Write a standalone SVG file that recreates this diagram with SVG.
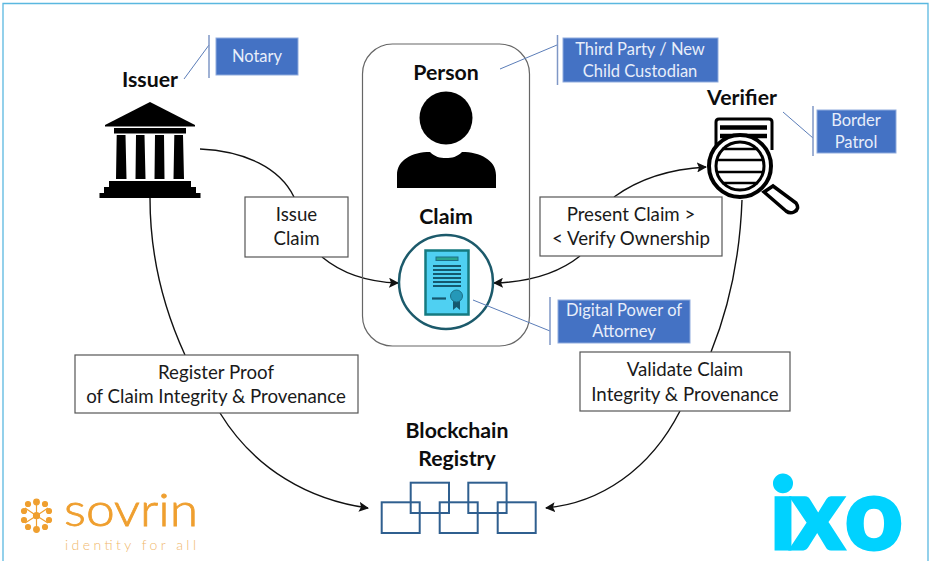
<svg xmlns="http://www.w3.org/2000/svg" width="931" height="561" viewBox="0 0 931 561">
<defs>
<style>
text{font-family:"Lato","Liberation Sans",sans-serif;text-anchor:middle}
.h{font-size:21.300px;font-weight:700;fill:#0d0d0d}
.l{font-size:18.700px;fill:#1a1a1a}
.c{font-size:16.500px;fill:#e8eefa}
.box{fill:#fff;stroke:#555;stroke-width:1.200}
.note{fill:#4472c4;stroke:#8fabdd;stroke-width:1}
.bar{stroke:#7f97c6;stroke-width:1.500;fill:none}
.lead{stroke:#5b7db8;stroke-width:1;fill:none}
.wire{stroke:#111;stroke-width:1.400;fill:none}
.blk{fill:none;stroke:#2f5f8f;stroke-width:2}
</style>
<marker id="a" viewBox="0 0 10 10" refX="9" refY="5" markerWidth="10" markerHeight="10" markerUnits="userSpaceOnUse" orient="auto"><path d="M0 0L10 5L0 10L2 5Z" fill="#111"/></marker>
</defs>
<rect width="931" height="561" fill="#fff"/>
<path d="M3 561V3.500H928V561" fill="none" stroke="#5ab8e0" stroke-width="1.300"/>

<g id="connectors">
<path class="wire" d="M200 149C245 151 280 168 294 197"/>
<path class="wire" marker-end="url(#a)" d="M322 257C340 272 365 282 398 283"/>
<path class="wire" d="M150 198C150 250 162 305 185 355"/>
<path class="wire" marker-end="url(#a)" d="M220 413C255 470 310 500 368 508"/>
<path class="wire" marker-end="url(#a)" d="M580 256C560 272 530 282 494 283"/>
<path class="wire" marker-end="url(#a)" d="M614 197C640 178 670 169 706 167"/>
<path class="wire" d="M742 200C740 255 730 305 711 352"/>
<path class="wire" marker-end="url(#a)" d="M680 411C650 470 600 503 546 508"/>
</g>

<g id="person">
<rect x="362.500" y="44" width="167" height="302" rx="30" fill="none" stroke="#666" stroke-width="1.200"/>
<text class="h" x="446" y="80">Person</text>
<circle cx="446" cy="118" r="26.500" fill="#000"/>
<path d="M397 188V175C397 160 412 152 430 152C435 157 440 158 446 158C452 158 457 157 462 152C480 152 496 160 496 175V188Z" fill="#000"/>
<path class="lead" d="M500 69L557 45"/>
<path class="bar" d="M557.500 35V85"/>
</g>
<g id="note-third-party">
<rect class="note" x="563" y="38" width="155" height="44"/>
<text class="c" x="640" y="55">Third Party / New</text>
<text class="c" x="640" y="77">Child Custodian</text>
</g>

<g id="claim">
<text class="h" x="446" y="224">Claim</text>
<circle cx="446" cy="282" r="47" fill="#fff" stroke="#1c5a6b" stroke-width="2.500"/>
<rect x="425.500" y="250.500" width="43" height="64" fill="#4fd0f2" stroke="#157a80" stroke-width="2.500"/>
<rect x="436" y="257" width="22" height="3.500" fill="#2aa58e" stroke="#1c6f86" stroke-width="1"/>
<path d="M433 266H461M433 270H461M433 274H461M433 278H461M433 282H461M433 286H461" stroke="#14586e" stroke-width="2.200" fill="none"/>
<path d="M432 298.500H446" stroke="#14586e" stroke-width="2.200"/>
<path d="M453 300V310L456.500 307L460 310V300Z" fill="#14586e"/>
<circle cx="456.500" cy="296" r="6" fill="#2598b8" stroke="#1c6f86" stroke-width="1"/>
<path class="lead" d="M473 300L550 331"/>
<path class="bar" d="M550 297V345"/>
</g>
<g id="note-digital">
<rect class="note" x="558" y="300" width="132" height="43"/>
<text class="c" x="624" y="316">Digital Power of</text>
<text class="c" x="624" y="337">Attorney</text>
</g>

<g id="issuer">
<text class="h" x="150" y="87">Issuer</text>
<path d="M150 102L195 125V126.500H105V125Z" fill="#000"/>
<rect x="114" y="128" width="72" height="5.500" fill="#000"/>
<path d="M116.700 135H125.500L126.500 179H116Z M136 135H144.500L145.500 179H135.500Z M155 135H164L164.500 179H154.500Z M174.300 135H183L184 179H173.500Z" fill="#000"/>
<path d="M109 181H191V187H196V193H200.500V198H99.500V193H104V187H109Z" fill="#000"/>
<path class="lead" d="M184 79L209 45"/>
<path class="bar" d="M209 35V78"/>
</g>
<g id="note-notary">
<rect class="note" x="216" y="38" width="82" height="37"/>
<text class="c" x="257" y="62">Notary</text>
</g>

<g id="verifier">
<text class="h" x="742" y="105">Verifier</text>
<path d="M716 150V122Q716 119 719 119H769Q772 119 772 122V150" fill="#fff" stroke="#000" stroke-width="3"/>
<path d="M720 127.500H767M720 136H767" stroke="#000" stroke-width="4.500"/>
<path d="M764 192L773 186L796 203Q800 209 794 212Q790 214 786 211Z" fill="#fff" stroke="#000" stroke-width="3.500"/>
<circle cx="740" cy="166" r="31" fill="#fff" stroke="#000" stroke-width="4"/>
<circle cx="740" cy="166" r="24" fill="#fff" stroke="#000" stroke-width="3"/>
<path d="M718 160H762M716 172H764M722 149H758M722 183H758" stroke="#000" stroke-width="2.500"/>
<path class="lead" d="M783 112L813 138"/>
<path class="bar" d="M813 106V156"/>
</g>
<g id="note-border">
<rect class="note" x="817" y="110" width="79" height="43"/>
<text class="c" x="856" y="126">Border</text>
<text class="c" x="856" y="148">Patrol</text>
</g>

<g id="label-issue">
<rect class="box" x="245" y="197" width="103" height="60"/>
<text class="l" x="296.500" y="221">Issue</text>
<text class="l" x="296.500" y="245">Claim</text>
</g>
<g id="label-present">
<rect class="box" x="540" y="197" width="182" height="59"/>
<text class="l" x="631" y="221">Present Claim &gt;</text>
<text class="l" x="631" y="245">&lt; Verify Ownership</text>
</g>
<g id="label-register">
<rect class="box" x="75" y="355" width="283" height="58"/>
<text class="l" x="216" y="379">Register Proof</text>
<text class="l" x="216" y="403">of Claim Integrity &amp; Provenance</text>
</g>
<g id="label-validate">
<rect class="box" x="580" y="352" width="210" height="59"/>
<text class="l" x="685" y="376">Validate Claim</text>
<text class="l" x="685" y="401">Integrity &amp; Provenance</text>
</g>

<g id="blockchain">
<text class="h" x="457" y="438">Blockchain</text>
<text class="h" x="457" y="466">Registry</text>
<rect class="blk" x="410.700" y="482.700" width="38.300" height="30.300"/>
<rect class="blk" x="468.300" y="482.700" width="38.300" height="30.300"/>
<rect class="blk" x="381.700" y="502.300" width="38" height="30.700"/>
<rect class="blk" x="439.700" y="502.300" width="38" height="30.700"/>
<rect class="blk" x="497.700" y="502.300" width="38" height="30.700"/>
</g>

<g id="sovrin">
<g stroke="#ef9f2f" stroke-width="1.200" fill="#ef9f2f">
<path d="M36.500 515.700L36.500 502M36.500 515.700L36.500 529.500M36.500 515.700L25 508M36.500 515.700L48 508M36.500 515.700L25 523M36.500 515.700L48 523"/>
<circle cx="36.500" cy="515.700" r="3"/>
<circle cx="36.500" cy="502" r="2.800"/><circle cx="36.500" cy="529.500" r="2.800"/>
<circle cx="28" cy="504" r="2.500"/><circle cx="45" cy="504" r="2.500"/>
<circle cx="28" cy="527" r="2.500"/><circle cx="45" cy="527" r="2.500"/>
<circle cx="24" cy="511" r="2.500"/><circle cx="49" cy="511" r="2.500"/>
<circle cx="24" cy="520" r="2.500"/><circle cx="49" cy="520" r="2.500"/>
</g>
<text x="64" y="526" font-size="46" font-weight="300" fill="#ef9f2f" stroke="#ef9f2f" stroke-width="0.800" style="text-anchor:start" textLength="134" lengthAdjust="spacingAndGlyphs">sovrin</text>
<text x="65" y="549.500" font-size="14" font-weight="300" fill="#f0b76c" style="text-anchor:start" textLength="131">identity for all</text>
</g>

<g id="ixo">
<text x="770 791 845" y="549" font-size="100" font-weight="900" fill="#00d2ff" stroke="#00d2ff" stroke-width="3" style="text-anchor:start">ixo</text>
</g>
</svg>
